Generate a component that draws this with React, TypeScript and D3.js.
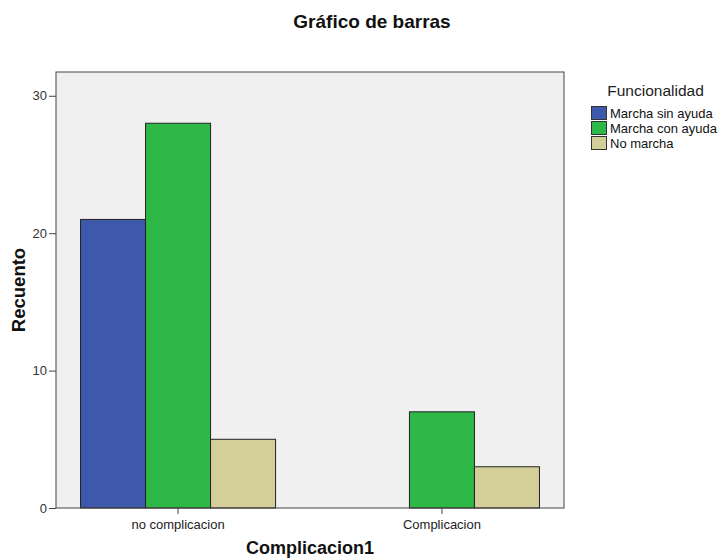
import { useEffect, useRef } from "react";
import * as d3 from "d3";

const categories = ["no complicacion", "Complicacion"];
const seriesNames = ["Marcha sin ayuda", "Marcha con ayuda", "No marcha"];
const sinAyuda = [21, 0];
const conAyuda = [28, 7];
const noMarcha = [5, 3];
const yTicks = [0, 10, 20, 30];
const colors = ["#3e58ac", "#2eb848", "#d4cf98"];

const App = () => {
  const svgRef = useRef<SVGSVGElement>(null);

  useEffect(() => {
    if (!svgRef.current) return;
    d3.select(svgRef.current).selectAll("*").remove();

    const width = 725;
    const height = 558;
    const margin = { top: 72, right: 161, bottom: 50, left: 56 };
    const innerWidth = width - margin.left - margin.right;
    const innerHeight = height - margin.top - margin.bottom;
    const font = "'Liberation Sans', Arial, sans-serif";

    const svg = d3.select(svgRef.current)
      .attr("width", width)
      .attr("height", height)
      .style("position", "absolute")
      .style("left", "0px")
      .style("top", "0px")
      .style("font-family", font);

    const g = svg.append("g")
      .attr("transform", `translate(${margin.left},${margin.top})`);

    const values = [sinAyuda, conAyuda, noMarcha];
    const rows = categories.map((c, i) => ({
      cat: c,
      vals: seriesNames.map((s, j) => ({ key: s, j, v: values[j][i] }))
    }));

    const x0 = d3.scaleBand()
      .domain(categories)
      .range([0, innerWidth])
      .paddingInner(0.261)
      .paddingOuter(0.093);
    const x1 = d3.scaleBand()
      .domain(seriesNames)
      .range([0, x0.bandwidth()])
      .padding(0);
    const y = d3.scaleLinear()
      .domain([0, 31.73])
      .range([innerHeight, 0]);

    // Plot background
    g.append("rect")
      .attr("width", innerWidth)
      .attr("height", innerHeight)
      .attr("fill", "#f0f0f0");

    // Bars
    const groups = g.selectAll(".grp")
      .data(rows)
      .join("g")
      .attr("transform", d => `translate(${x0(d.cat)},0)`);

    groups.selectAll("rect")
      .data(d => d.vals.filter(v => v.v > 0))
      .join("rect")
      .attr("x", d => x1(d.key)!)
      .attr("y", d => y(d.v))
      .attr("width", x1.bandwidth())
      .attr("height", d => innerHeight - y(d.v))
      .attr("fill", d => colors[d.j])
      .attr("stroke", "#222")
      .attr("stroke-width", 1);

    // Frame
    g.append("rect")
      .attr("width", innerWidth)
      .attr("height", innerHeight)
      .attr("fill", "none")
      .attr("stroke", "#444")
      .attr("stroke-width", 1);

    // Y axis
    const yAxis = g.append("g")
      .call(d3.axisLeft(y).tickValues(yTicks).tickSize(7).tickPadding(2));
    yAxis.select(".domain").remove();
    yAxis.selectAll("line").attr("stroke", "#444");
    yAxis.selectAll("text")
      .attr("fill", "#333")
      .style("font-size", "13px")
      .style("font-family", font);

    // X axis
    const xAxis = g.append("g")
      .attr("transform", `translate(0,${innerHeight})`)
      .call(d3.axisBottom(x0).tickSize(6).tickPadding(6));
    xAxis.select(".domain").remove();
    xAxis.selectAll("line").attr("stroke", "#444");
    xAxis.selectAll("text")
      .attr("fill", "#222")
      .style("font-size", "13px")
      .style("font-family", font);

    // Titles
    svg.append("text")
      .attr("x", 372)
      .attr("y", 28)
      .attr("text-anchor", "middle")
      .style("font-size", "19px")
      .style("font-weight", "bold")
      .attr("fill", "#111")
      .text("Gráfico de barras");

    svg.append("text")
      .attr("x", margin.left + innerWidth / 2)
      .attr("y", 554)
      .attr("text-anchor", "middle")
      .style("font-size", "18px")
      .style("font-weight", "bold")
      .attr("fill", "#111")
      .text("Complicacion1");

    svg.append("text")
      .attr("transform", "rotate(-90)")
      .attr("x", -(margin.top + innerHeight / 2))
      .attr("y", 25)
      .attr("text-anchor", "middle")
      .style("font-size", "18.5px")
      .style("font-weight", "bold")
      .attr("fill", "#111")
      .text("Recuento");

    // Legend
    const legend = svg.append("g").attr("transform", "translate(591,0)");
    legend.append("text")
      .attr("x", 64.5)
      .attr("y", 95.5)
      .attr("text-anchor", "middle")
      .style("font-size", "15.5px")
      .attr("fill", "#222")
      .text("Funcionalidad");
    seriesNames.forEach((s, i) => {
      legend.append("rect")
        .attr("x", 0.5)
        .attr("y", 106.5 + i * 15)
        .attr("width", 15)
        .attr("height", 13)
        .attr("fill", colors[i])
        .attr("stroke", "#333");
      legend.append("text")
        .attr("x", 19)
        .attr("y", 118 + i * 15)
        .style("font-size", "13px")
        .attr("fill", "#111")
        .text(s);
    });
  }, []);

  return <svg ref={svgRef} />;
};

export default App;
